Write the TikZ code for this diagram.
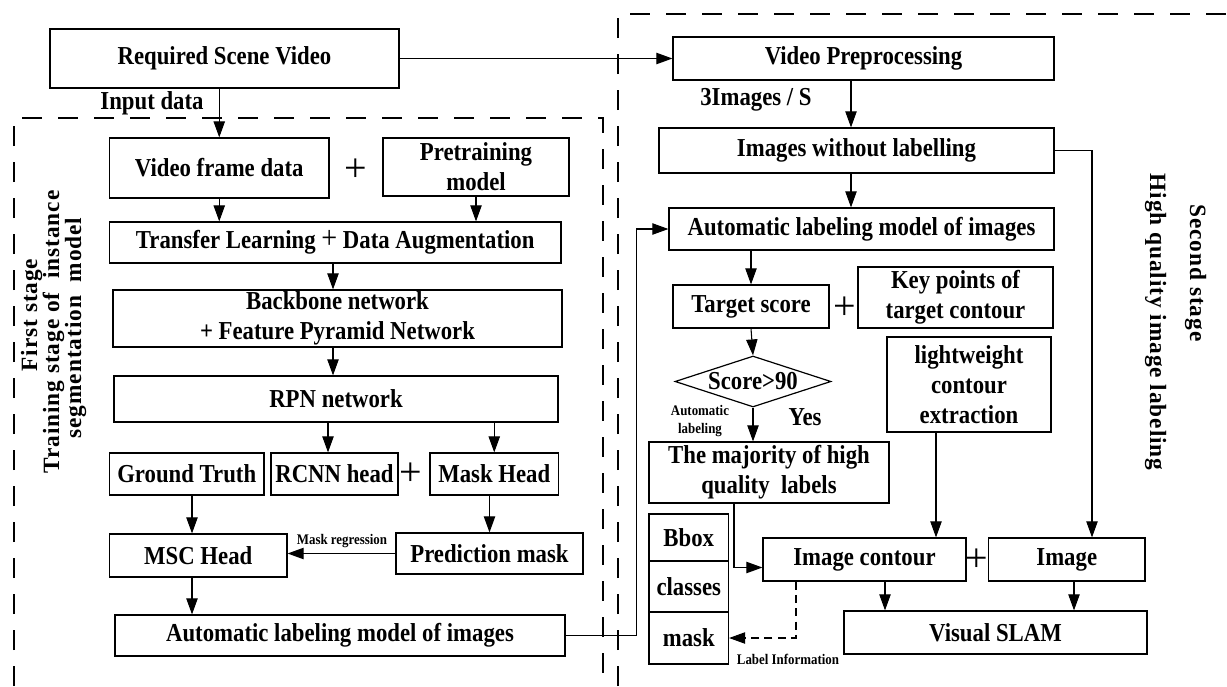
\documentclass[tikz,border=0pt]{standalone}
\usepackage{fontspec}
\setmainfont{Liberation Serif}
\newfontfamily\condfont{Liberation Serif}[FakeStretch=0.88]
\newfontfamily\sidefont{Liberation Serif}[LetterSpace=4]
\usetikzlibrary{arrows.meta,shapes.geometric}
\newcommand{\mybox}[6]{\node[box, minimum width={((#4)-(#2))*0.75pt}, minimum height={((#5)-(#3))*0.75pt}] (#1) at ({((#2)+(#4))/2},{((#3)+(#5))/2}) {#6};}
\begin{document}
\begin{tikzpicture}[x=0.75pt,y=-0.75pt,
  box/.style={draw, line width=0.9pt, inner sep=0pt, align=center, font=\condfont\bfseries\fontsize{19.4}{22.5}\selectfont},
  arr/.style={line width=0.8pt, -{Triangle[length=12pt,width=8.5pt]}},
  frame/.style={line width=0.9pt, dash pattern=on 15pt off 12pt},
  dashconn/.style={dash pattern=on 6pt off 4pt},
  lbl/.style={font=\condfont\bfseries\fontsize{19.4}{22.5}\selectfont, inner sep=0pt},
  sml/.style={font=\condfont\bfseries\fontsize{11}{13.5}\selectfont, inner sep=0pt, align=center},
  side/.style={font=\sidefont\bfseries\fontsize{17.5}{17.5}\selectfont, inner sep=0pt, anchor=base},
  plus/.style={font=\fontsize{30}{30}\selectfont, inner sep=0pt}]
\useasboundingbox (0,0) rectangle (1227,686);

% frames
\draw[frame] (14,686) -- (14,118) -- (603,118) -- (603,686);
\draw[frame] (618,686) -- (618,14) -- (1227,14);

% left boxes
\mybox{rsv}{50}{29}{399}{88}{Required Scene Video}
\mybox{vfd}{109.5}{138}{329}{198}{Video frame data}
\mybox{pre}{383}{138}{569}{196}{Pretraining\\model}
\mybox{tl}{109.5}{222}{561}{263}{Transfer Learning {\mdseries\fontsize{24}{24}\selectfont+} Data Augmentation}
\mybox{bb}{113}{290}{562}{347}{Backbone network\\+ Feature Pyramid Network}
\mybox{rpn}{114}{376}{558}{422}{RPN network}
\mybox{gt}{109.5}{453}{264}{495}{Ground Truth}
\mybox{rcnn}{271}{453}{398}{495}{RCNN head}
\mybox{mh}{430}{453}{558.5}{495}{Mask Head}
\mybox{msc}{109.5}{534}{287}{577}{MSC Head}
\mybox{pm}{396}{533}{583}{574}{Prediction mask}
\mybox{alma}{115}{615}{565}{656}{Automatic labeling model of images}

% right boxes
\mybox{vp}{673}{37}{1054}{80}{Video Preprocessing}
\mybox{iwl}{659}{128}{1054}{173}{Images without labelling}
\mybox{almb}{669}{208}{1054}{250}{Automatic labeling model of images}
\mybox{ts}{673}{285}{829}{328}{Target score}
\mybox{kp}{858}{267}{1053}{328}{Key points of\\target contour}
\mybox{lw}{887}{337}{1051}{432}{lightweight\\contour\\extraction}
\mybox{maj}{649}{442}{889}{503}{The majority of high\\quality~~labels}
\mybox{bbox}{649}{514}{728.5}{561}{Bbox}
\mybox{cls}{649}{561}{728.5}{612}{classes}
\mybox{mask}{649}{612}{728.5}{664}{mask}
\mybox{ic}{763}{538}{966}{581}{Image contour}
\mybox{img}{988.5}{538}{1145}{581}{Image}
\mybox{vs}{844}{611}{1147}{654}{Visual SLAM}

\node[diamond, draw, line width=0.9pt, minimum width={156*0.75pt}, minimum height={51*0.75pt}, inner sep=0pt] (dia) at (753,381.5) {};
\node[lbl] (diat) at (dia) {Score>90};

% plus signs
\node[plus] (p1) at (356,170) {+};
\node[plus] (p2) at (411,474) {+};
\node[plus] (p3) at (845,308) {+};
\node[plus] (p4) at (977,560) {+};

% labels
\node[lbl] (inp) at (152,103) {Input data};
\node[lbl] (ips) at (756,100) {3Images / S};
\node[sml] (mr) at (342,541) {Mask regression};
\node[lbl] (yes) at (805,417) {Yes};
\node[sml] (al) at (700,421) {Automatic\\labeling};
\node[sml] (li) at (788,659) {Label Information};

% side labels
\node[side, rotate=90] (s1) at (37,315) {First stage};
\node[side, rotate=90] (s2) at (59,332) {Training stage of~~instance};
\node[side, rotate=90] (s3) at (81,328) {segmentation~~model};
\node[side, rotate=-90] (s4) at (1190,273) {Second stage};
\node[side, rotate=-90] (s5) at (1150,322) {High quality image labeling};

% helper x positions
\coordinate (xb) at (333,0);
\coordinate (xc) at (328,0);
\coordinate (xg) at (192,0);
\coordinate (xa) at (851,0);
\coordinate (xr) at (1092,0);
\coordinate (xl) at (936,0);
\coordinate (xm) at (734,0);
\coordinate (xd) at (796,0);
\coordinate (xv1) at (885,0);
\coordinate (xv2) at (1074,0);

% connectors
\draw[arr] (rsv.east) -- (vp.west);
\draw[arr] (rsv.south -| vfd.north) -- (vfd.north);
\draw[arr] (vfd.south) -- (vfd.south |- tl.north);
\draw[arr] (pre.south) -- (pre.south |- tl.north);
\draw[arr] (tl.south -| xb) -- (bb.north -| xb);
\draw[arr] (bb.south -| xb) -- (rpn.north -| xb);
\draw[arr] (rpn.south -| xc) -- (rcnn.north -| xc);
\draw[arr] (rpn.south -| mh.north) -- (mh.north);
\draw[arr] (gt.south -| xg) -- (msc.north -| xg);
\draw[arr] (mh.south -| pm.north) -- (pm.north);
\draw[arr] (pm.west) -- (pm.west -| msc.east);
\draw[arr] (msc.south -| xg) -- (alma.north -| xg);
\draw[arr] (alma.east) -- ++(71,0) |- (almb.west);
\draw[arr] (vp.south -| xa) -- (iwl.north -| xa);
\draw[arr] (iwl.south -| xa) -- (almb.north -| xa);
\draw[arr] (iwl.east) -| (img.north -| xr);
\draw[arr] (almb.south -| ts.north) -- (ts.north);
\draw[arr] (ts.south) -- (dia.north);
\draw[arr] (dia.south) -- (dia.south |- maj.north);
\draw[arr] (lw.south -| xl) -- (ic.north -| xl);
\draw[arr] (maj.south -| xm) |- ([yshift=-6pt]ic.west);
\draw[arr] (ic.south -| xv1) -- (vs.north -| xv1);
\draw[arr] (img.south -| xv2) -- (vs.north -| xv2);
\draw[arr, dashconn] (ic.south -| xd) |- (mask.east);
\end{tikzpicture}
\end{document}
